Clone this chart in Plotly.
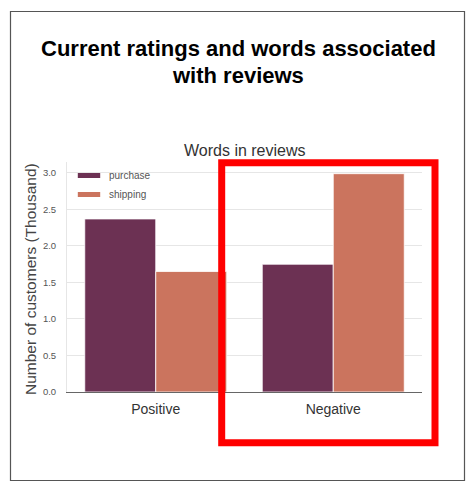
import plotly.graph_objects as go

# data
sentiments = ["Positive", "Negative"]
purchase = [2.37, 1.75]
shipping = [1.65, 2.99]
series_names = ["purchase", "shipping"]
series_colors = ["#6c3153", "#cb745e"]

W, H = 474, 497
# plot area in pixels
L, R, T, B = 67, 422, 162, 392


def px_x(x):
    return (x - L) / (R - L)


def px_y(y):
    return (B - y) / (B - T)


fig = go.Figure()
for name, vals, col in zip(series_names, [purchase, shipping], series_colors):
    fig.add_trace(go.Bar(x=sentiments, y=vals, name=name, showlegend=False,
                         marker=dict(color=col, line=dict(color="white", width=0.8))))
    # legend entry only: wide flat swatch like the seaborn legend
    fig.add_trace(go.Scatter(x=[None], y=[None], mode="markers", name=name,
                             marker=dict(symbol="line-ew", size=19, color=col,
                                         line=dict(color=col, width=7))))

fig.update_layout(
    width=W, height=H,
    margin=dict(l=L, r=W - R, t=T, b=H - B, pad=0),
    paper_bgcolor="white", plot_bgcolor="white",
    barmode="group", bargap=0.2, bargroupgap=0,
    font=dict(family="Liberation Sans, Arial, sans-serif", color="#444"),
    legend=dict(x=px_x(69), y=px_y(161), xanchor="left", yanchor="top",
                font=dict(size=10, color="#555"), bgcolor="rgba(0,0,0,0)",
                tracegroupgap=0, itemwidth=30),
    showlegend=True,
)

fig.update_xaxes(range=[-0.5, 1.5], showgrid=False, showline=True, linecolor="#666",
                 linewidth=1.2, ticks="", tickfont=dict(size=14, color="#333"),
                 ticklabelstandoff=4)
fig.update_yaxes(range=[0, 3.15], dtick=0.5, tickformat=".1f", showgrid=True,
                 gridcolor="#e6e6e6", gridwidth=1, zeroline=False, showline=True,
                 linecolor="#e6e6e6", ticks="", tickfont=dict(size=9.5, color="#555"),
                 ticklabelstandoff=8)

# main title, two lines
title_font = dict(size=22, color="black", family="Liberation Sans, Arial")
fig.add_annotation(text="<b>Current ratings and words associated</b>",
                   xref="paper", yref="paper", x=px_x(W / 2 + 1), y=px_y(49),
                   xanchor="center", yanchor="middle", showarrow=False, font=title_font)
fig.add_annotation(text="<b>with reviews</b>",
                   xref="paper", yref="paper", x=px_x(W / 2 + 1), y=px_y(76),
                   xanchor="center", yanchor="middle", showarrow=False, font=title_font)
# chart subtitle
fig.add_annotation(text="Words in reviews", xref="paper", yref="paper",
                   x=0.5, y=px_y(150), xanchor="center", yanchor="middle",
                   showarrow=False, font=dict(size=16, color="#333"))
# y axis title
fig.add_annotation(text="Number of customers (Thousand)", xref="paper", yref="paper",
                   x=px_x(30), y=px_y(279), xanchor="center", yanchor="middle",
                   textangle=-90, showarrow=False, font=dict(size=15.5, color="#444"))

# outer frame
fig.add_shape(type="rect", xref="paper", yref="paper",
              x0=px_x(10.5), x1=px_x(464.5), y0=px_y(480.5), y1=px_y(11.5),
              line=dict(color="#555", width=1.2))
# red highlight around the negative group
fig.add_shape(type="rect", xref="paper", yref="paper",
              x0=px_x(221.7), x1=px_x(435), y0=px_y(442.7), y1=px_y(162.7),
              line=dict(color="#ff0000", width=7))

# page body has a default 8px margin; drop it so the figure fills the window
fig.write_html("out.html", config={"displayModeBar": False},
               post_script="document.body.style.margin='0';")
